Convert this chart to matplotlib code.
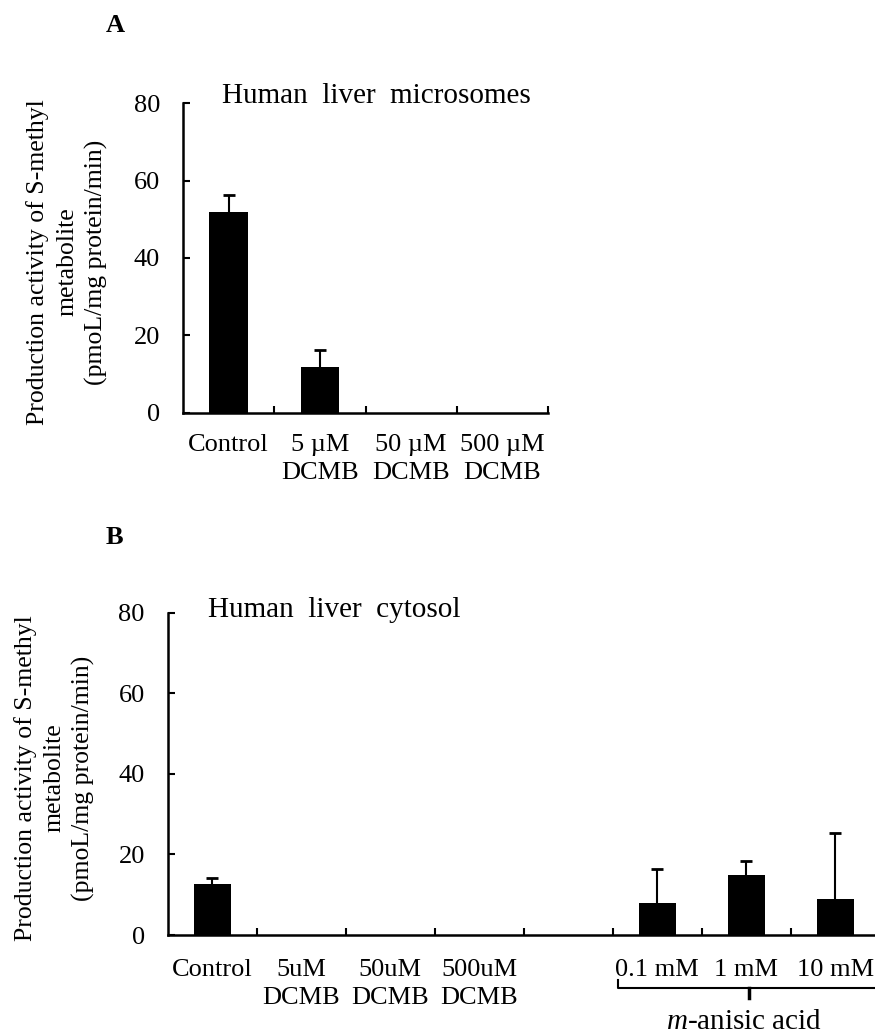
import numpy as np
import matplotlib
matplotlib.use("Agg")
import matplotlib.pyplot as plt
import matplotlib.transforms as mtransforms
from matplotlib.ticker import FixedLocator

plt.rcParams['font.family'] = ['Liberation Serif', 'DejaVu Serif']
plt.rcParams['mathtext.fontset'] = 'custom'
plt.rcParams['mathtext.rm'] = 'Liberation Serif'
plt.rcParams['mathtext.it'] = 'Liberation Serif:italic'

# ---- data ----
micro_labels = ["Control", "5 µM\nDCMB", "50 µM\nDCMB", "500 µM\nDCMB"]
micro_values = [52.0, 11.8, 0.0, 0.0]
micro_errors = [4.4, 4.4, 0.0, 0.0]

cyto_labels = ["Control", "5uM\nDCMB", "50uM\nDCMB", "500uM\nDCMB", "",
               "0.1 mM", "1 mM", "10 mM"]
cyto_values = [12.7, 0.0, 0.0, 0.0, np.nan, 8.0, 14.9, 9.0]
cyto_errors = [1.5, 0.0, 0.0, 0.0, np.nan, 8.3, 3.5, 16.4]
anisic_labels = ["0.1 mM", "1 mM", "10 mM"]

y_ticks = [0, 20, 40, 60, 80]
ylabel = "Production activity of S-methyl\nmetabolite\n(pmoL/mg protein/min)"

# ---- figure ----
W, H = 875, 1034
fig = plt.figure(figsize=(W / 100, H / 100), dpi=100)


def px_axes(left, top, right, bottom):
    return fig.add_axes([left / W, 1 - bottom / H, (right - left) / W, (bottom - top) / H])


def draw_panel(ax, labels, values, errors, xpad):
    n = len(labels)
    x = np.arange(n) + 0.5
    vals = np.asarray(values, float)
    errs = np.asarray(errors, float)
    ax.bar(x, vals, width=0.42, color='black', linewidth=0, zorder=2)
    ok = np.isfinite(errs) & (errs > 0)
    _, caps, _ = ax.errorbar(x[ok], vals[ok], yerr=[np.zeros(ok.sum()), errs[ok]],
                             fmt='none', ecolor='black', elinewidth=1.5, capsize=4.5,
                             capthick=2, zorder=1)
    # one-sided bars: keep only the upper cap
    caps[0].set_visible(False)
    ax.set_xlim(0, n)
    ax.set_ylim(0, 80)
    ax.set_yticks(y_ticks)
    ax.set_xticks(x)
    ax.set_xticklabels(labels)
    for lbl in ax.get_xticklabels():
        lbl.set_linespacing(1.35)
    ax.xaxis.set_minor_locator(FixedLocator(np.arange(1, n + 1)))
    ax.tick_params(axis='x', which='major', length=0, pad=xpad, labelsize=19)
    ax.tick_params(axis='x', which='minor', direction='in', length=5, width=1.5)
    ax.tick_params(axis='y', direction='in', length=5, width=1.5, pad=16.5, labelsize=19)
    for s in ('top', 'right'):
        ax.spines[s].set_visible(False)
    for s in ('left', 'bottom'):
        ax.spines[s].set_linewidth(1.8)


ax_a = px_axes(183, 103.3, 548, 412.6)
ax_b = px_axes(167.7, 612.7, 879.7, 935)
draw_panel(ax_a, micro_labels, micro_values, micro_errors, 15.5)
draw_panel(ax_b, cyto_labels, cyto_values, cyto_errors, 17.5)

# panel letters and titles
fig.text(115 / W, 1 - 25 / H, "A", weight='bold', fontsize=19, ha='center', va='center')
fig.text(114 / W, 1 - 538 / H, "B", weight='bold', fontsize=19, ha='center', va='center')
fig.text(222 / W, 1 - 103 / H, "Human  liver  microsomes", fontsize=21, ha='left', va='baseline')
fig.text(207.6 / W, 1 - 616.7 / H, "Human  liver  cytosol", fontsize=21, ha='left', va='baseline')

# y-axis labels
for cx, cy in ((67.4, 262), (54.5, 778)):
    fig.text(cx / W, 1 - cy / H, ylabel, rotation=90, ha='center', va='center',
             fontsize=18.5, linespacing=1.4, multialignment='center')

# bracket grouping the m-anisic acid columns
ax_h = 935 - 612.7
trans = mtransforms.blended_transform_factory(ax_b.transData, ax_b.transAxes)
idx = [cyto_labels.index(l) for l in anisic_labels]
left, right = idx[0] + 0.06, idx[-1] + 1.0
mid = (left + right) / 2
y_line = -(988 - 935) / ax_h
y_hook = -(980 - 935) / ax_h
y_tip = -(998 - 935) / ax_h
ax_b.plot([left, left, right], [y_hook, y_line, y_line], color='black', lw=1.5,
          transform=trans, clip_on=False)
ax_b.plot([mid, mid], [y_line, y_tip], color='black', lw=2.5,
          transform=trans, clip_on=False)
ax_b.text(mid - 0.06, -(1029 - 935) / ax_h, r"$\mathit{m}$-anisic acid", fontsize=21,
          ha='center', va='baseline', transform=trans)

fig.savefig("out.png", dpi=100)
